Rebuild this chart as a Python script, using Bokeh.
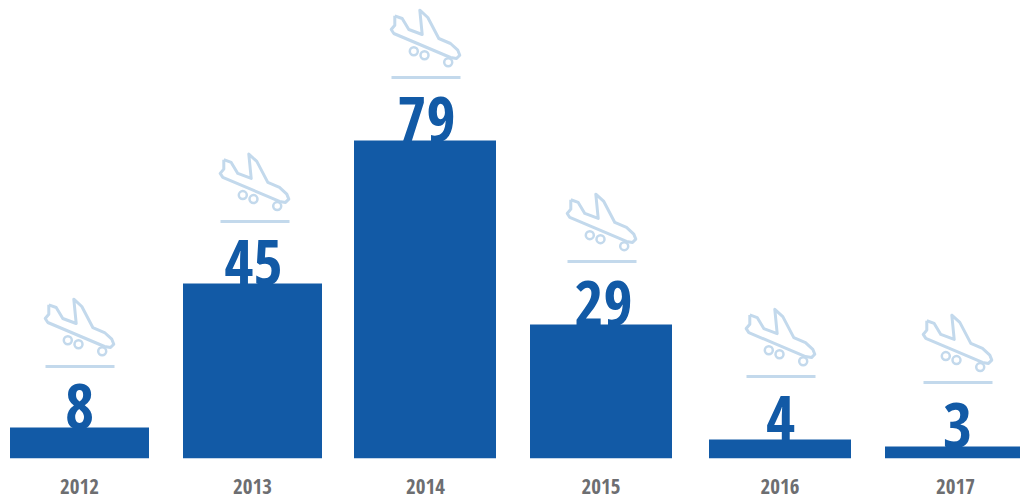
from bokeh.plotting import figure
from bokeh.models import FixedTicker, Range1d
from bokeh.core.properties import value
from bokeh.embed import file_html
from bokeh.resources import INLINE

# data
years = ["2012", "2013", "2014", "2015", "2016", "2017"]
crashes = [8, 45, 79, 29, 4, 3]
bar_heights = [7.7, 43.5, 79.0, 33.3, 4.7, 3.0]

# layout (pixels across the picture)
bar_left = [9.5, 182.5, 353.5, 529.5, 708.5, 884.5]
bar_right = [148.5, 321.5, 495.5, 671.5, 850.5, 1026.5]
label_x = [79, 252, 425, 600.5, 779.5, 955]
num_x = [79, 253, 426, 603, 780, 957]
icon_x = [45, 220, 391, 567, 746, 923]
rule_gap = [61, 62, 63, 63, 63, 64]

PX = 318 / 79.0
W, FH, BOTTOM = 1020, 458, 41
BLUE, PALE, GREY = "#125aa6", "#c3d9ec", "#6d6e71"
FONT = "Open Sans Condensed"

p = figure(width=W, height=FH + BOTTOM, output_backend="svg", toolbar_location=None,
           x_range=Range1d(0, W), y_range=Range1d(0, FH / PX),
           min_border=0, min_border_bottom=BOTTOM, outline_line_color=None,
           background_fill_color="white", border_fill_color="white")
p.frame_width = W
p.frame_height = FH
p.grid.visible = False
p.yaxis.visible = False

ax = p.xaxis[0]
ax.ticker = FixedTicker(ticks=label_x)
ax.major_label_overrides = {x: y for x, y in zip(label_x, years)}
ax.axis_line_color = None
ax.major_tick_line_color = None
ax.minor_tick_line_color = None
ax.major_label_standoff = 14
ax.major_label_text_font = FONT
ax.major_label_text_font_style = "bold"
ax.major_label_text_font_size = "21px"
ax.major_label_text_color = GREY

p.text(x=num_x, y=bar_heights, text=[str(v) for v in crashes], text_align="center",
       text_baseline="alphabetic", y_offset=-21, text_color=BLUE,
       text_font=value(FONT), text_font_style="bold", text_font_size="63px")

p.quad(left=bar_left, right=bar_right, bottom=0, top=bar_heights, fill_color=BLUE, line_color=None)

# icon outline, px relative to the rule's left end, up positive
outline = [(3.3, 61.7), (10.7, 59), (17.3, 48), (30.7, 43), (28.3, 67.3), (36.3, 60), (47.3, 39),
           (59, 34), (66.3, 27.3), (68.3, 22.3), (65, 19), (59, 20), (2.3, 44), (-0.3, 48), (3.3, 52.3), (3.3, 61.7)]
wheels = [(22.3, 26.3), (33, 22.3), (56.7, 15.3)]

for x0, h, gap in zip(icon_x, bar_heights, rule_gap):
    y0 = h + gap / PX
    p.line([x0, x0 + 69], [y0, y0], line_color=PALE, line_width=3)
    p.line([x0 + a for a, b in outline], [y0 + b / PX for a, b in outline],
           line_color=PALE, line_width=3, line_join="round")
    p.scatter([x0 + a for a, b in wheels], [y0 + b / PX for a, b in wheels], size=8,
              marker="circle", fill_color=None, line_color=PALE, line_width=2.5)

open("out.html", "w").write(file_html(p, INLINE))
